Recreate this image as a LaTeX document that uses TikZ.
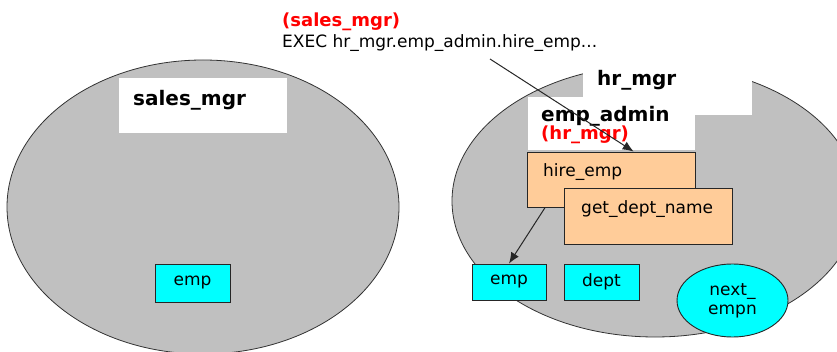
\documentclass[tikz,border=0pt]{standalone}
\usepackage{fontspec}
\setmainfont{DejaVu Sans}
\usepackage{xcolor}
\usetikzlibrary{arrows.meta}
\usetikzlibrary{shapes.geometric}
\usetikzlibrary{positioning}
\definecolor{schemagray}{HTML}{C0C0C0}
\definecolor{procpeach}{HTML}{FFCC99}
\definecolor{tablecyan}{HTML}{00FFFF}
\definecolor{ownerred}{HTML}{FF0000}
\tikzset{
  schema/.style={draw=black!80, fill=schemagray, line width=0.8pt},
  titlebox/.style={fill=white, inner sep=0pt},
  procbox/.style={draw=black!85, fill=procpeach, line width=0.9pt, inner sep=0pt},
  tablebox/.style={draw=black!85, fill=tablecyan, line width=0.9pt, inner sep=0pt, font=\fontsize{17}{20}\selectfont},
  callarrow/.style={-{Latex[length=11pt, width=9pt]}, line width=1pt, black!85},
  boldtext/.style={font=\fontsize{20}{24}\selectfont\bfseries, inner sep=0pt, anchor=west},
  ownertext/.style={font=\fontsize{18}{22}\selectfont\bfseries, text=ownerred, inner sep=0pt, anchor=west},
  plaintext/.style={font=\fontsize{17}{20}\selectfont, inner sep=0pt, anchor=west},
}
\begin{document}
\begin{tikzpicture}[x=1pt, y=-1pt]
    \clip (0,0) rectangle (837,352);
    % Schemas
    \draw[schema] (203,207) ellipse (196 and 147);
    \draw[schema] (655,201) ellipse (203 and 136);
    % Title boxes
    \node[titlebox, minimum width=168, minimum height=55] (salesbox) at (203,105.5) {};
    \node[titlebox, minimum width=169, minimum height=57] (hrbox) at (667.5,86.5) {};
    \node[titlebox, minimum width=167, minimum height=53] (adminbox) at (611.5,123.5) {};
    \node[boldtext] (salestitle) at (133,100) {sales\_mgr};
    \node[boldtext] (hrtitle) at (597,80) {hr\_mgr};
    \node[boldtext] (admintitle) at (541,116) {emp\_admin};
    \node[ownertext] (adminowner) at (541,135) {(hr\_mgr)};
    % Call
    \node[ownertext] (callowner) at (282,22) {(sales\_mgr)};
    \node[plaintext] (callexec) at (282,43) {EXEC hr\_mgr.emp\_admin.hire\_emp...};
    % Procedures
    \node[procbox, minimum width=168, minimum height=55] (hireemp) at (611,179.5) {};
    \node[plaintext] (hireemptext) at (543,172) {hire\_emp};
    \node[procbox, minimum width=168, minimum height=56] (getdept) at (648,216) {};
    \node[plaintext] (getdepttext) at (581,209) {get\_dept\_name};
    % Tables
    \node[tablebox, minimum width=75, minimum height=38] (salesemp) at (192.5,283) {emp};
    \node[tablebox, minimum width=74, minimum height=36] (hremp) at (509,282) {emp};
    \node[tablebox, minimum width=75, minimum height=36] (hrdept) at (601.5,282) {dept};
    \node[tablebox, ellipse, minimum width=111, minimum height=73, align=center, font=\fontsize{17}{19}\selectfont] (nextempn) at (732.5,300.5) {next\_\\empn};
    % Arrows
    \coordinate (callstart) at (490,59);
    \draw[callarrow] (callstart) -- (hireemp.51);
    \draw[callarrow] (hireemp.203) -- (hremp.north);
\end{tikzpicture}
\end{document}
